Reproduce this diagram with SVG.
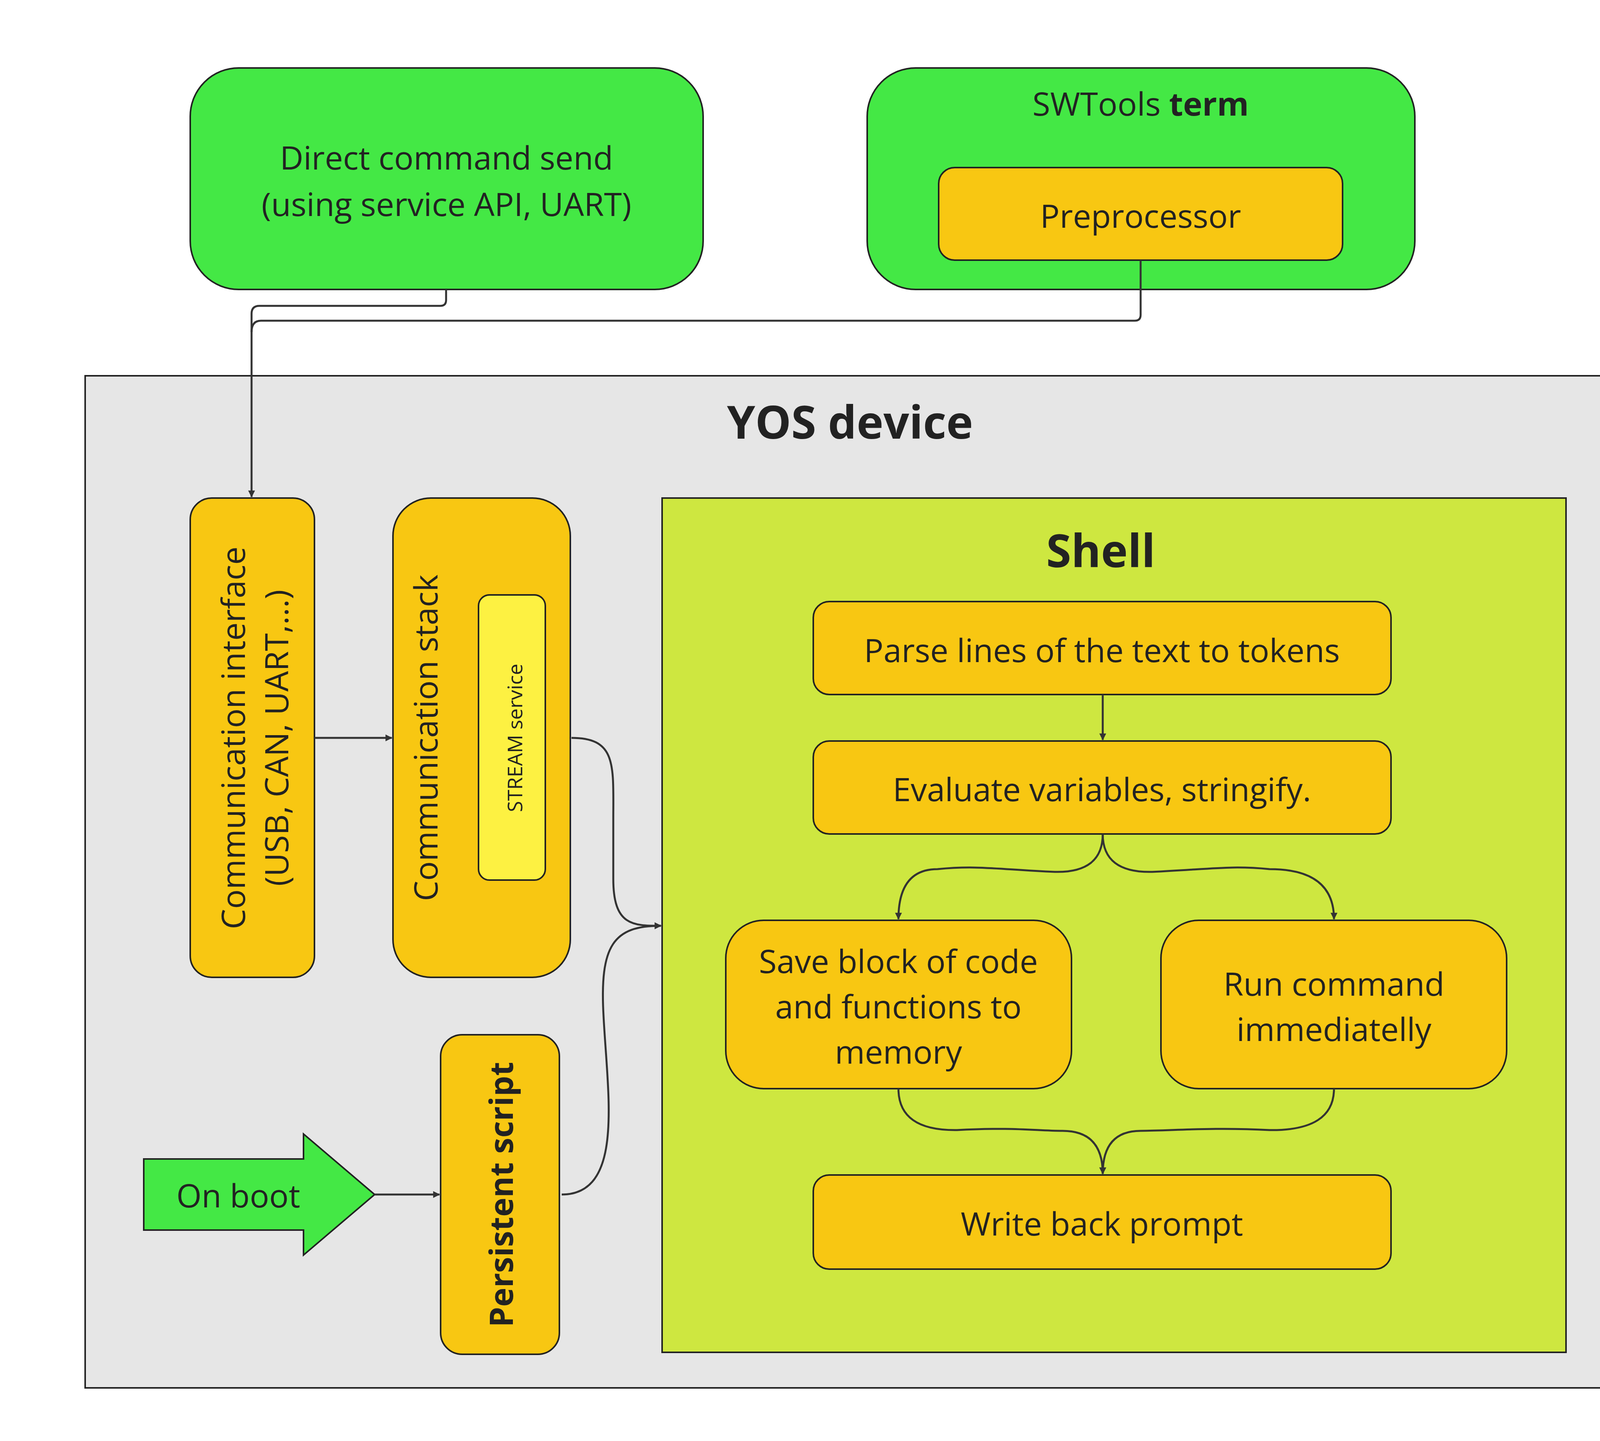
<svg xmlns="http://www.w3.org/2000/svg" width="4336" height="3689" viewBox="0 0 4336 3689">
<style>
.t{font-family:"Open Sans","Noto Sans",sans-serif;fill:#222;text-anchor:middle;dominant-baseline:central}
.n{stroke:#222;stroke-width:4}
.c{fill:none;stroke:#333;stroke-width:5}
</style>
<defs>
<marker id="a" viewBox="0 0 12 12" refX="11" refY="6" markerWidth="8" markerHeight="8" orient="auto" markerUnits="userSpaceOnUse" style="overflow:visible">
<path d="M0 0 L12 6 L0 12 Z" fill="#333" transform="scale(2.2) translate(-6 -3.3)"/>
</marker>
</defs>
<rect width="4336" height="3689" fill="#fff"/>
<g id="yos"><rect x="218" y="962" width="3924" height="2591" fill="#e6e6e6" class="n"/><text x="2176" y="1078" class="t" font-size="116" font-weight="bold">YOS device</text></g>
<g id="direct"><rect x="487" y="174" width="1313" height="567" rx="124" fill="#44e845" class="n"/><text x="1143" y="401" class="t" font-size="83">Direct command send</text><text x="1143" y="520" class="t" font-size="83">(using service API, UART)</text></g>
<g id="swtools"><rect x="2220" y="174" width="1402" height="567" rx="124" fill="#44e845" class="n"/><text x="2920" y="263" class="t" font-size="83">SWTools <tspan font-weight="bold">term</tspan></text></g>
<g id="pre"><rect x="2403" y="429" width="1034" height="237" rx="41" fill="#f8c712" class="n"/><text x="2920" y="550" class="t" font-size="83">Preprocessor</text></g>
<g id="ci"><rect x="487" y="1275" width="318" height="1227" rx="55" fill="#f8c712" class="n"/><text transform="translate(594 1889) rotate(-90)" class="t" font-size="83">Communication interface</text><text transform="translate(705 1889) rotate(-90)" class="t" font-size="83">(USB, CAN, UART,...)</text></g>
<g id="cs"><rect x="1006" y="1275" width="454" height="1227" rx="97" fill="#f8c712" class="n"/><text transform="translate(1087 1889) rotate(-90)" class="t" font-size="83">Communication stack</text></g>
<g id="stream"><rect x="1225" y="1523" width="171" height="730" rx="28" fill="#fdf142" class="n"/><text transform="translate(1316 1889) rotate(-90)" class="t" font-size="52">STREAM service</text></g>
<g id="shell"><rect x="1695" y="1275" width="2314" height="2187" fill="#cee740" class="n"/><text x="2818" y="1407" class="t" font-size="116" font-weight="bold">Shell</text></g>
<g id="parse"><rect x="2082" y="1540" width="1479" height="238" rx="41" fill="#f8c712" class="n"/><text x="2821" y="1662" class="t" font-size="83">Parse lines of the text to tokens</text></g>
<g id="eval"><rect x="2082" y="1897" width="1479" height="238" rx="41" fill="#f8c712" class="n"/><text x="2821" y="2018" class="t" font-size="83">Evaluate variables, stringify.</text></g>
<g id="save"><rect x="1858" y="2356" width="885" height="431" rx="97" fill="#f8c712" class="n"/><text x="2300" y="2458" class="t" font-size="83">Save block of code</text><text x="2300" y="2574" class="t" font-size="83">and functions to</text><text x="2300" y="2690" class="t" font-size="83">memory</text></g>
<g id="run"><rect x="2972" y="2356" width="885" height="431" rx="97" fill="#f8c712" class="n"/><text x="3415" y="2516" class="t" font-size="83">Run command</text><text x="3415" y="2632" class="t" font-size="83">immediatelly</text></g>
<g id="write"><rect x="2082" y="3008" width="1479" height="241" rx="41" fill="#f8c712" class="n"/><text x="2821" y="3130" class="t" font-size="83">Write back prompt</text></g>
<g id="ps"><rect x="1128" y="2649" width="304" height="818" rx="55" fill="#f8c712" class="n"/><text transform="translate(1280 3058) rotate(-90)" class="t" font-size="83" font-weight="bold">Persistent script</text></g>
<g id="boot"><polygon points="368,2967 777,2967 777,2903 959,3058 777,3213 777,3149 368,3149" fill="#44e845" class="n"/><text x="610" y="3058" class="t" font-size="83">On boot</text></g>
<g id="connectors">
<path class="c" d="M1142 741 V768 Q1142 783 1127 783 H664 Q644 783 644 803 V1272" marker-end="url(#a)"/>
<path class="c" d="M2920 666 V806 Q2920 821 2905 821 H668 Q644 821 644 850"/>
<path class="c" d="M805 1889 H1003" marker-end="url(#a)"/>
<path class="c" d="M1463 1889 C1580 1889 1570 1960 1570 2100 V2250 C1570 2370 1620 2370 1692 2370" marker-end="url(#a)"/>
<path class="c" d="M1438 3058 C1600 3058 1555 2800 1545 2600 C1535 2420 1570 2370 1692 2370" marker-end="url(#a)"/>
<path class="c" d="M959 3058 H1125" marker-end="url(#a)"/>
<path class="c" d="M2823 1778 V1894" marker-end="url(#a)"/>
<path class="c" d="M2823 2135 Q2823 2235 2700 2232 C2550 2225 2500 2215 2400 2225 Q2300 2225 2300 2353" marker-end="url(#a)"/>
<path class="c" d="M2823 2135 Q2823 2235 2950 2232 C3100 2225 3150 2215 3250 2225 Q3415 2225 3415 2353" marker-end="url(#a)"/>
<path class="c" d="M2300 2787 Q2300 2895 2450 2893 C2600 2885 2650 2895 2720 2895 Q2823 2895 2823 3005" marker-end="url(#a)"/>
<path class="c" d="M3415 2787 Q3415 2895 3250 2893 C3100 2885 3000 2895 2920 2895 Q2823 2895 2823 3005" marker-end="url(#a)"/>
</g>
</svg>
